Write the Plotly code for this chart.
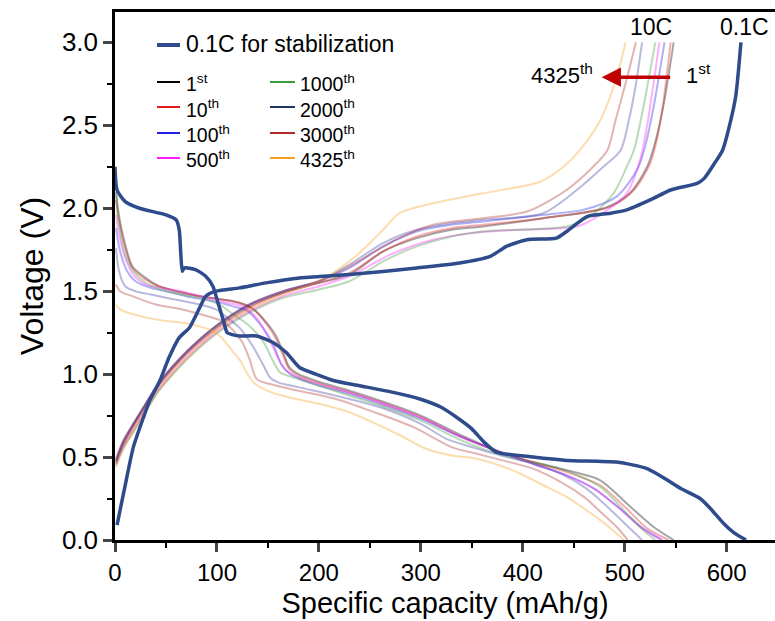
import plotly.graph_objects as go

# ---- 0.1C stabilization cycle -------------------------------------------
cap_dis_01c = [0, 2, 10, 24, 50, 60, 63, 64.5, 66, 68, 79, 89, 96, 101, 106, 110, 114, 122, 139,
               155, 168, 181, 197, 215, 240, 273, 299, 320, 335, 350, 362, 374, 410, 443, 492,
               522, 542, 555, 574, 584, 597, 607, 619]
v_dis_01c = [2.25, 2.11, 2.04, 2.00, 1.96, 1.93, 1.87, 1.73, 1.62, 1.64, 1.63, 1.59, 1.53, 1.43,
             1.33, 1.25, 1.24, 1.23, 1.23, 1.19, 1.13, 1.04, 1.00, 0.96, 0.93, 0.89, 0.85, 0.80,
             0.74, 0.67, 0.59, 0.53, 0.50, 0.48, 0.47, 0.43, 0.36, 0.31, 0.25, 0.19, 0.10, 0.045, 0.0]
cap_chg_01c = [2, 5, 11, 18, 28, 34, 44, 53, 63, 73, 83, 89, 99, 122, 148, 181, 230, 296, 338, 368,
               384, 404, 433, 443, 463, 486, 502, 525, 545, 571, 578, 588, 596, 604, 609, 614]
v_chg_01c = [0.09, 0.18, 0.36, 0.56, 0.74, 0.84, 0.96, 1.10, 1.22, 1.28, 1.40, 1.47, 1.50, 1.52,
             1.55, 1.58, 1.60, 1.64, 1.67, 1.71, 1.77, 1.81, 1.82, 1.86, 1.95, 1.97, 1.99, 2.05,
             2.11, 2.15, 2.18, 2.27, 2.35, 2.53, 2.68, 3.00]

# ---- 10C cycles: discharge ----------------------------------------------
cap_dis_1 = [1, 4, 10, 17, 30, 43, 60, 83, 105, 122, 136, 150, 158, 165, 171, 180, 197, 230, 260,
             300, 340, 378, 410, 443, 476, 502, 528, 548]
v_dis_1 = [2.10, 1.95, 1.78, 1.65, 1.58, 1.53, 1.50, 1.47, 1.45, 1.43, 1.39, 1.30, 1.23, 1.13, 1.04,
           1.00, 0.96, 0.90, 0.84, 0.75, 0.63, 0.53, 0.47, 0.42, 0.36, 0.22, 0.08, 0.0]
cap_dis_10 = [1, 4, 10, 17, 30, 43, 60, 83, 105, 122, 136, 150, 158, 165, 171, 180, 197, 230, 260,
              300, 340, 378, 410, 443, 476, 500, 522, 543]
v_dis_10 = [2.05, 1.92, 1.76, 1.64, 1.57, 1.53, 1.50, 1.47, 1.45, 1.43, 1.39, 1.29, 1.21, 1.11, 1.03,
            0.99, 0.95, 0.89, 0.83, 0.74, 0.62, 0.53, 0.47, 0.41, 0.33, 0.20, 0.07, 0.0]
cap_dis_100 = [1, 5, 12, 20, 35, 50, 70, 95, 115, 130, 145, 155, 163, 172, 190, 230, 260, 300, 340,
               378, 410, 443, 470, 495, 518, 537]
v_dis_100 = [1.88, 1.74, 1.62, 1.56, 1.52, 1.50, 1.47, 1.44, 1.41, 1.38, 1.28, 1.18, 1.06, 1.00, 0.95,
             0.88, 0.82, 0.73, 0.62, 0.53, 0.46, 0.39, 0.31, 0.19, 0.07, 0.0]
cap_dis_500 = [1, 4, 10, 18, 30, 45, 65, 90, 110, 125, 140, 152, 160, 168, 184, 230, 260, 300, 340,
               378, 410, 443, 470, 495, 517, 536]
v_dis_500 = [1.96, 1.84, 1.70, 1.60, 1.54, 1.52, 1.50, 1.46, 1.43, 1.41, 1.33, 1.20, 1.10, 1.02, 0.97,
             0.89, 0.83, 0.74, 0.62, 0.53, 0.46, 0.39, 0.31, 0.19, 0.07, 0.0]
cap_dis_1000 = [1, 4, 10, 18, 30, 45, 65, 90, 105, 116, 130, 145, 155, 162, 175, 200, 230, 260, 300,
                340, 365, 400, 437, 476, 502, 518, 530]
v_dis_1000 = [2.08, 1.90, 1.72, 1.62, 1.55, 1.51, 1.48, 1.45, 1.41, 1.36, 1.30, 1.20, 1.08, 1.01, 0.98,
              0.93, 0.87, 0.81, 0.72, 0.60, 0.54, 0.48, 0.43, 0.32, 0.16, 0.06, 0.0]
cap_dis_2000 = [1, 4, 10, 20, 35, 50, 75, 99, 110, 122, 135, 145, 152, 160, 181, 230, 260, 300, 325,
                350, 378, 410, 437, 460, 476, 500, 517]
v_dis_2000 = [1.76, 1.62, 1.53, 1.50, 1.48, 1.46, 1.43, 1.39, 1.34, 1.28, 1.17, 1.06, 0.98, 0.95, 0.92,
              0.85, 0.80, 0.70, 0.61, 0.56, 0.51, 0.46, 0.40, 0.32, 0.24, 0.10, 0.0]
cap_dis_3000 = [1, 5, 17, 40, 66, 90, 105, 115, 125, 132, 139, 152, 180, 217, 250, 293, 330, 355, 380,
                410, 440, 460, 478, 492, 503]
v_dis_3000 = [1.54, 1.50, 1.47, 1.42, 1.39, 1.35, 1.32, 1.27, 1.19, 1.09, 0.97, 0.94, 0.90, 0.85, 0.78,
              0.68, 0.56, 0.52, 0.48, 0.43, 0.34, 0.26, 0.16, 0.08, 0.0]
cap_dis_4325 = [1, 5, 24, 50, 66, 92, 103, 115, 123, 130, 136, 149, 170, 201, 230, 256, 280, 305, 330,
                355, 394, 420, 443, 460, 476, 490, 499]
v_dis_4325 = [1.42, 1.39, 1.35, 1.32, 1.31, 1.27, 1.23, 1.14, 1.08, 1.00, 0.95, 0.90, 0.86, 0.82, 0.77,
              0.70, 0.63, 0.55, 0.51, 0.49, 0.41, 0.33, 0.26, 0.19, 0.12, 0.05, 0.0]

# ---- 10C cycles: charge -------------------------------------------------
cap_chg_1 = [1, 8, 18, 30, 41, 50, 63, 76, 99, 132, 165, 200, 230, 263, 296, 330, 361, 420, 480, 505,
             522, 530, 538, 548]
v_chg_1 = [0.47, 0.58, 0.69, 0.81, 0.92, 0.99, 1.08, 1.16, 1.28, 1.41, 1.49, 1.55, 1.60, 1.74, 1.82,
           1.87, 1.89, 1.94, 2.00, 2.09, 2.25, 2.40, 2.62, 3.00]
cap_chg_10 = [1, 8, 18, 30, 41, 50, 63, 76, 99, 132, 165, 200, 230, 263, 296, 330, 361, 420, 486, 509,
              525, 531, 537, 545]
v_chg_10 = [0.46, 0.57, 0.68, 0.80, 0.91, 0.98, 1.07, 1.15, 1.27, 1.40, 1.49, 1.55, 1.61, 1.74, 1.83,
            1.88, 1.90, 1.94, 2.01, 2.11, 2.27, 2.40, 2.60, 3.00]
cap_chg_100 = [1, 8, 18, 30, 41, 50, 63, 76, 99, 132, 165, 200, 230, 263, 296, 330, 361, 420, 459, 492,
               512, 519, 528, 539]
v_chg_100 = [0.48, 0.59, 0.70, 0.82, 0.93, 1.00, 1.09, 1.17, 1.29, 1.42, 1.50, 1.56, 1.64, 1.77, 1.86,
             1.90, 1.92, 1.96, 1.99, 2.07, 2.23, 2.35, 2.60, 3.00]
cap_chg_500 = [1, 8, 18, 30, 41, 50, 63, 76, 99, 132, 165, 200, 230, 270, 312, 350, 394, 453, 473, 502,
               515, 522, 534]
v_chg_500 = [0.46, 0.56, 0.66, 0.78, 0.89, 0.96, 1.05, 1.13, 1.25, 1.38, 1.47, 1.53, 1.59, 1.72, 1.81,
             1.85, 1.87, 1.89, 1.95, 2.09, 2.29, 2.50, 3.00]
cap_chg_1000 = [1, 8, 18, 30, 41, 50, 63, 76, 99, 132, 165, 200, 230, 263, 296, 330, 361, 443, 466, 489,
                502, 509, 518, 530]
v_chg_1000 = [0.45, 0.55, 0.65, 0.77, 0.88, 0.95, 1.04, 1.12, 1.24, 1.37, 1.46, 1.51, 1.56, 1.68, 1.77,
              1.83, 1.86, 1.89, 1.95, 2.09, 2.25, 2.35, 2.60, 3.00]
cap_chg_2000 = [1, 8, 18, 30, 41, 50, 63, 76, 99, 132, 165, 200, 230, 263, 296, 330, 361, 420, 453, 479,
                496, 504, 511, 517]
v_chg_2000 = [0.48, 0.59, 0.70, 0.82, 0.93, 1.00, 1.09, 1.17, 1.29, 1.42, 1.50, 1.56, 1.66, 1.79, 1.87,
              1.91, 1.93, 1.97, 2.11, 2.25, 2.35, 2.53, 2.75, 3.00]
cap_chg_3000 = [1, 8, 18, 30, 41, 50, 63, 76, 99, 132, 165, 200, 230, 255, 279, 312, 361, 404, 443, 469,
                483, 491, 502, 511]
v_chg_3000 = [0.49, 0.60, 0.70, 0.82, 0.93, 1.00, 1.09, 1.17, 1.29, 1.42, 1.50, 1.56, 1.65, 1.74, 1.82,
              1.90, 1.94, 1.98, 2.11, 2.25, 2.35, 2.53, 2.78, 3.00]
cap_chg_4325 = [1, 8, 18, 30, 41, 50, 63, 76, 99, 132, 165, 200, 230, 250, 263, 279, 312, 361, 417, 440,
                456, 476, 490, 501]
v_chg_4325 = [0.44, 0.55, 0.66, 0.78, 0.89, 0.96, 1.05, 1.13, 1.26, 1.39, 1.48, 1.56, 1.68, 1.79, 1.87,
              1.97, 2.03, 2.09, 2.16, 2.25, 2.35, 2.53, 2.75, 3.00]

cycle_labels = ["1<sup>st</sup>", "10<sup>th</sup>", "100<sup>th</sup>", "500<sup>th</sup>",
                "1000<sup>th</sup>", "2000<sup>th</sup>", "3000<sup>th</sup>", "4325<sup>th</sup>"]
cycle_colors = ["#000000", "#e31a1c", "#1f1fe6", "#ff1aff", "#3c9b3c", "#1f3566", "#b02a2a", "#f5a020"]
curve_colors = ["#000000", "#e31a1c", "#1f1fe6", "#ff1aff", "#3c9b3c", "#3a3aa0", "#b02a2a", "#f5a020"]

x_ticks = [0, 100, 200, 300, 400, 500, 600]
y_ticks = [0.0, 0.5, 1.0, 1.5, 2.0, 2.5, 3.0]

cycles = [
    (cap_dis_1, v_dis_1, cap_chg_1, v_chg_1),
    (cap_dis_10, v_dis_10, cap_chg_10, v_chg_10),
    (cap_dis_100, v_dis_100, cap_chg_100, v_chg_100),
    (cap_dis_500, v_dis_500, cap_chg_500, v_chg_500),
    (cap_dis_1000, v_dis_1000, cap_chg_1000, v_chg_1000),
    (cap_dis_2000, v_dis_2000, cap_chg_2000, v_chg_2000),
    (cap_dis_3000, v_dis_3000, cap_chg_3000, v_chg_3000),
    (cap_dis_4325, v_dis_4325, cap_chg_4325, v_chg_4325),
]

BLUE = "#2e4b8b"
FONT = "Liberation Sans, Arial, sans-serif"

fig = go.Figure()

# faded 10C curves
for (cd, vd, cc, vc), col in zip(cycles, curve_colors):
    for xs, ys in ((cd, vd), (cc, vc)):
        fig.add_trace(go.Scatter(x=xs, y=ys, mode="lines", showlegend=False, opacity=0.35,
                                 line=dict(color=col, width=2, shape="spline", smoothing=0.8),
                                 hoverinfo="skip"))

# 0.1C stabilization curves on top
for xs, ys in ((cap_dis_01c, v_dis_01c), (cap_chg_01c, v_chg_01c)):
    fig.add_trace(go.Scatter(x=xs, y=ys, mode="lines", showlegend=False,
                             line=dict(color=BLUE, width=3.5, shape="spline", smoothing=0.6)))


# ---- legend block (paper coordinates) ------------------------------------
def legend_key(x0, x1, y, color, width):
    fig.add_shape(type="line", xref="paper", yref="paper", x0=x0, x1=x1, y0=y, y1=y,
                  line=dict(color=color, width=width))


legend_key(0.0636, 0.0985, 0.9375, BLUE, 4)
fig.add_annotation(xref="paper", yref="paper", x=0.1045, y=0.9395,
                   text="0.1C for stabilization", showarrow=False, xanchor="left",
                   yanchor="middle", font=dict(size=23, color="black"))

LEG_SIZE = 19.5
row_y = [0.8674, 0.8201, 0.7708, 0.7235]
columns = ((0.0636, 0.0985, 0.1045), (0.2348, 0.2727, 0.2780))
for c, (kx0, kx1, tx) in enumerate(columns):
    labs = cycle_labels[4 * c:4 * c + 4]
    cols = cycle_colors[4 * c:4 * c + 4]
    for r, col in enumerate(cols):
        legend_key(kx0, kx1, row_y[r], col, 2)
    fig.add_annotation(xref="paper", yref="paper", x=tx, y=0.7936, text="<br>".join(labs),
                       showarrow=False, xanchor="left", yanchor="middle", align="left",
                       font=dict(size=LEG_SIZE, color="black"))

fig.update_layout(
    width=775, height=621,
    margin=dict(l=115, r=0, t=12, b=81),
    plot_bgcolor="white", paper_bgcolor="white",
    font=dict(family=FONT, color="black"),
    showlegend=False,
    xaxis=dict(range=[0, 647.4], tickvals=x_ticks, ticks="outside", ticklen=9, tickwidth=2.5,
               showline=True, linewidth=2.5, linecolor="black", mirror=True, showgrid=False,
               zeroline=False, tickfont=dict(size=24, color="black"),
               title=dict(text="Specific capacity (mAh/g)", font=dict(size=29), standoff=9),
               minor=dict(dtick=50, tick0=0, ticks="outside", ticklen=5, tickwidth=2,
                          tickcolor="black")),
    yaxis=dict(range=[0, 3.183], tickvals=y_ticks, tickformat=".1f", ticks="outside", ticklen=9,
               tickwidth=2.5, showline=True, linewidth=2.5, linecolor="black", showgrid=False,
               zeroline=False, tickfont=dict(size=26, color="black"),
               title=dict(text="Voltage (V)", font=dict(size=32), standoff=9),
               minor=dict(dtick=0.25, tick0=0, ticks="outside", ticklen=5, tickwidth=2,
                          tickcolor="black")),
)

# rate labels and cycle-direction arrow
fig.add_annotation(x=525.7, y=3.092, text="10C", showarrow=False,
                   font=dict(size=23, color="black"))
fig.add_annotation(x=617, y=3.092, text="0.1C", showarrow=False,
                   font=dict(size=23, color="black"))
fig.add_annotation(x=470.8, y=2.81, text="4325<sup>th</sup>", showarrow=False, xanchor="right",
                   font=dict(size=22, color="black"))
fig.add_annotation(x=558.1, y=2.81, text="1<sup>st</sup>", showarrow=False, xanchor="left",
                   font=dict(size=22, color="black"))
fig.add_annotation(x=477.4, y=2.79, ax=546, ay=2.79, axref="x", ayref="y", text="",
                   showarrow=True, arrowhead=2, arrowsize=1.1, arrowwidth=3.5,
                   arrowcolor="#c00000")

fig.write_html("out.html")
